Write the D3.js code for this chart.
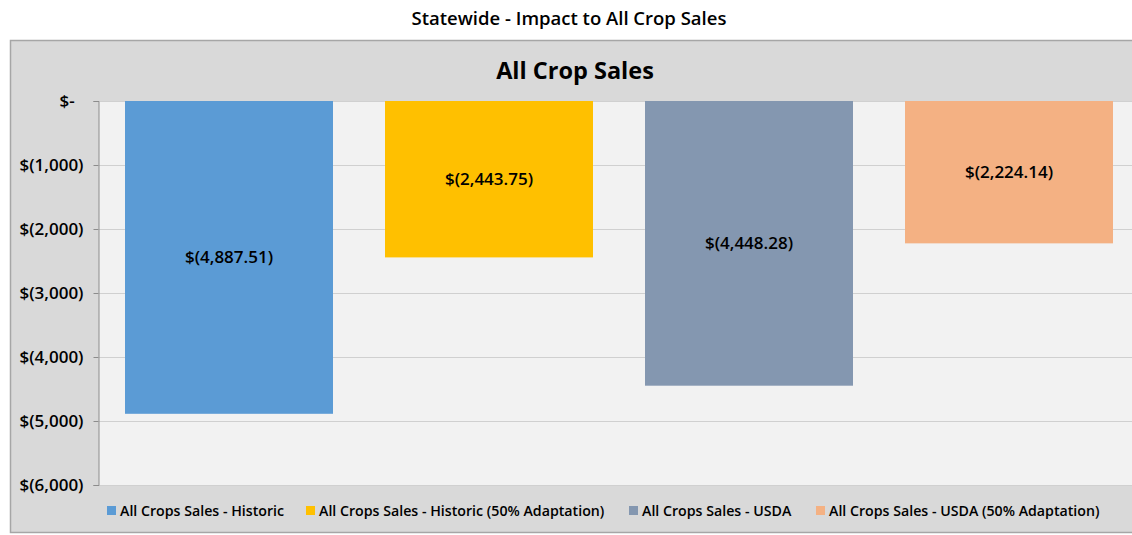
<!DOCTYPE html>
<html>
<head>
<meta charset="utf-8">
<script src="https://cdn.jsdelivr.net/npm/d3@7"></script>
<style>
  html, body { margin: 0; padding: 0; background: #ffffff; }
  svg { display: block; }
  text { font-family: "Open Sans", "Liberation Sans", sans-serif; }
</style>
</head>
<body>
<svg id="chart" width="1132" height="535"></svg>
<script>
// Series names and the dollar impact for each
const seriesNames = [
  "All Crops Sales - Historic",
  "All Crops Sales - Historic (50% Adaptation)",
  "All Crops Sales - USDA",
  "All Crops Sales - USDA (50% Adaptation)"
];
const seriesValues = [-4887.51, -2443.75, -4448.28, -2224.14];
const seriesColors = ["#5b9bd5", "#ffc000", "#8497b0", "#f4b183"];
const yTicks = [0, -1000, -2000, -3000, -4000, -5000, -6000];

const svg = d3.select("#chart");

// Page title
svg.append("text")
  .attr("x", 569).attr("y", 25)
  .attr("text-anchor", "middle")
  .attr("font-size", 18.5).attr("font-weight", 600)
  .attr("fill", "#000")
  .text("Statewide - Impact to All Crop Sales");

// Chart frame
svg.append("rect")
  .attr("x", 10.5).attr("y", 40.5)
  .attr("width", 1140).attr("height", 492)
  .attr("fill", "#d9d9d9").attr("stroke", "#a6a6a6").attr("stroke-width", 1.5);

// Chart title
svg.append("text")
  .attr("x", 575).attr("y", 79)
  .attr("text-anchor", "middle")
  .attr("font-size", 23.5).attr("font-weight", 700)
  .attr("fill", "#000")
  .text("All Crop Sales");

const plot = { left: 99, right: 1139, top: 101, bottom: 485 };

const y = d3.scaleLinear().domain([0, -6000]).range([plot.top, plot.bottom]);
const x = d3.scaleBand().domain(seriesNames).range([plot.left, plot.right]).paddingInner(0.2).paddingOuter(0.1);

// Plot background
svg.append("rect")
  .attr("x", plot.left).attr("y", plot.top)
  .attr("width", plot.right - plot.left).attr("height", plot.bottom - plot.top)
  .attr("fill", "#f2f2f2");

// Gridlines
svg.append("g").selectAll("line").data(yTicks).join("line")
  .attr("x1", plot.left).attr("x2", plot.right)
  .attr("y1", d => Math.round(y(d)) + 0.5).attr("y2", d => Math.round(y(d)) + 0.5)
  .attr("stroke", "#d0d0d0").attr("stroke-width", 1);

// Y axis
const fmt = d3.format(",");
const yAxis = d3.axisLeft(y).tickValues(yTicks).tickSize(5).tickPadding(10)
  .tickFormat(d => d === 0 ? "$-  " : "$(" + fmt(-d) + ")");
const ga = svg.append("g").attr("transform", `translate(${plot.left - 0.5},0)`).call(yAxis);
ga.select(".domain").attr("stroke", "#8c8c8c");
ga.selectAll(".tick line").attr("stroke", "#8c8c8c");
ga.selectAll(".tick text")
  .attr("font-size", 17).attr("font-weight", 600).attr("fill", "#000")
  .attr("font-family", "'Open Sans', sans-serif")
  .attr("xml:space", "preserve");

// Bars
svg.append("g").selectAll("rect").data(seriesNames).join("rect")
  .attr("x", d => x(d))
  .attr("y", y(0))
  .attr("width", x.bandwidth())
  .attr("height", (d, i) => y(seriesValues[i]) - y(0))
  .attr("fill", (d, i) => seriesColors[i]);

// Value labels
const money = d3.format(",.2f");
svg.append("g").selectAll("text").data(seriesNames).join("text")
  .attr("x", d => x(d) + x.bandwidth() / 2)
  .attr("y", (d, i) => (y(0) + y(seriesValues[i])) / 2 + 6)
  .attr("text-anchor", "middle")
  .attr("font-size", 17).attr("font-weight", 600).attr("fill", "#000")
  .text((d, i) => "$(" + money(-seriesValues[i]) + ")");

// Legend
const legendX = [107, 306, 629, 816];
const lg = svg.append("g").selectAll("g").data(seriesNames).join("g")
  .attr("transform", (d, i) => `translate(${legendX[i]},511)`);
lg.append("rect").attr("x", 0).attr("y", -5).attr("width", 9).attr("height", 9)
  .attr("fill", (d, i) => seriesColors[i]);
lg.append("text").attr("x", 13).attr("y", 5)
  .attr("font-size", 14.2).attr("font-weight", 600).attr("fill", "#000")
  .text(d => d);
</script>
</body>
</html>
